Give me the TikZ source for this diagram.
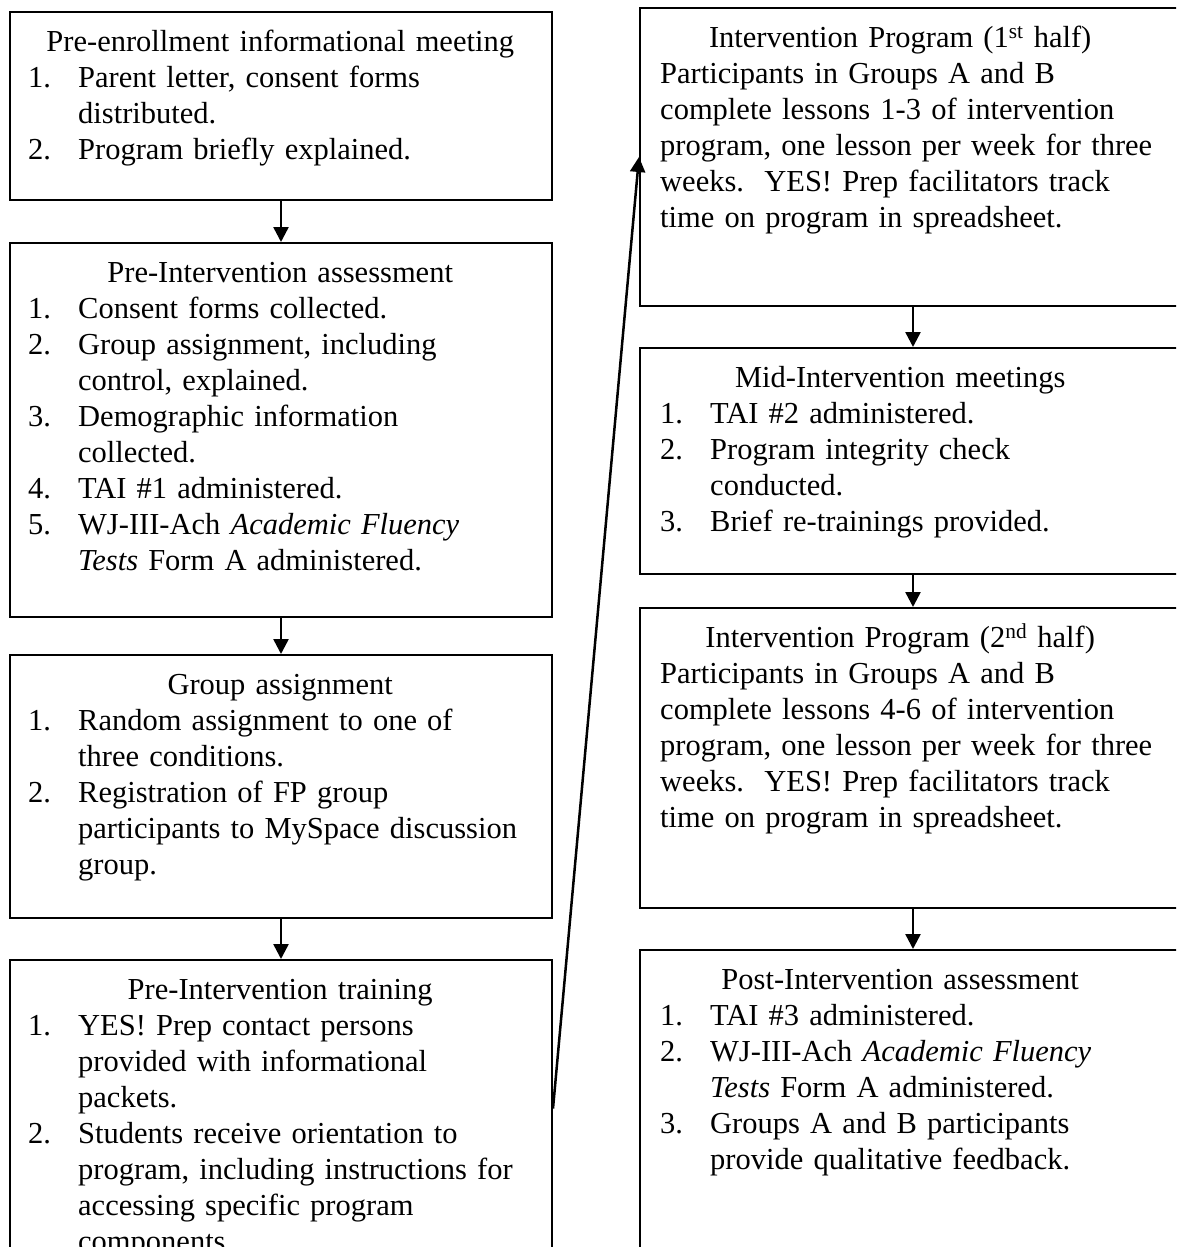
\documentclass[tikz,border=0pt]{standalone}
\usepackage{fontspec}
\setmainfont{Liberation Serif}
\usetikzlibrary{arrows.meta,calc}
% list helpers: number column and hanging continuation
\newcommand\numlbl[1]{\makebox[50pt][l]{#1}}
\newcommand\hang{\hspace*{50pt}}
\newcommand\lefttitle[1]{\makebox[504pt][c]{#1}}
\newcommand\righttitle[1]{\makebox[480pt][c]{#1}}
\begin{document}
\begin{tikzpicture}[x=1pt,y=-1pt,
  box/.style={draw, line width=2pt, rectangle, anchor=north west, inner sep=0pt},
  txt/.style={anchor=north west, inner sep=0pt, align=left, text width=540pt,
    font=\fontsize{30.5}{36}\selectfont, execute at begin node=\strut},
  flow/.style={line width=2.5pt, -{Triangle[width=15pt,length=15pt]}}]
\useasboundingbox (0,0) rectangle (1176,1247);
\clip (0,0) rectangle (1176,1247);

% left column
\node[box, minimum width=542pt, minimum height=188pt] (b1) at (9,11) {};
\node[box, minimum width=542pt, minimum height=374pt] (b2) at (9,242) {};
\node[box, minimum width=542pt, minimum height=263pt] (b3) at (9,654) {};
\node[box, minimum width=542pt, minimum height=297pt] (b4) at (9,959) {};

% right column
\node[box, minimum width=546pt, minimum height=298pt] (r1) at (639,7) {};
\node[box, minimum width=546pt, minimum height=226pt] (r2) at (639,347) {};
\node[box, minimum width=546pt, minimum height=300pt] (r3) at (639,607) {};
\node[box, minimum width=546pt, minimum height=311pt] (r4) at (639,949) {};

% texts
\node[txt] (b1t) at ($(b1.north west)+(19,15)$) {%
\lefttitle{Pre-enrollment informational meeting}\\
\numlbl{1.}Parent letter, consent forms\\
\hang distributed.\\
\numlbl{2.}Program briefly explained.};

\node[txt] (b2t) at ($(b2.north west)+(19,15)$) {%
\lefttitle{Pre-Intervention assessment}\\
\numlbl{1.}Consent forms collected.\\
\numlbl{2.}Group assignment, including\\
\hang control, explained.\\
\numlbl{3.}Demographic information\\
\hang collected.\\
\numlbl{4.}TAI \#1 administered.\\
\numlbl{5.}WJ-III-Ach \textit{Academic Fluency}\\
\hang\textit{Tests} Form A administered.};

\node[txt] (b3t) at ($(b3.north west)+(19,15)$) {%
\lefttitle{Group assignment}\\
\numlbl{1.}Random assignment to one of\\
\hang three conditions.\\
\numlbl{2.}Registration of FP group\\
\hang participants to MySpace discussion\\
\hang group.};

\node[txt] (b4t) at ($(b4.north west)+(19,15)$) {%
\lefttitle{Pre-Intervention training}\\
\numlbl{1.}YES! Prep contact persons\\
\hang provided with informational\\
\hang packets.\\
\numlbl{2.}Students receive orientation to\\
\hang program, including instructions for\\
\hang accessing specific program\\
\hang components.};

\node[txt] (r1t) at ($(r1.north west)+(21,15)$) {%
\righttitle{Intervention Program (1\textsuperscript{st} half)}\\
Participants in Groups A and B\\
complete lessons 1-3 of intervention\\
program, one lesson per week for three\\
weeks.\ \ YES! Prep facilitators track\\
time on program in spreadsheet.};

\node[txt] (r2t) at ($(r2.north west)+(21,15)$) {%
\righttitle{Mid-Intervention meetings}\\
\numlbl{1.}TAI \#2 administered.\\
\numlbl{2.}Program integrity check\\
\hang conducted.\\
\numlbl{3.}Brief re-trainings provided.};

\node[txt] (r3t) at ($(r3.north west)+(21,15)$) {%
\righttitle{Intervention Program (2\textsuperscript{nd} half)}\\
Participants in Groups A and B\\
complete lessons 4-6 of intervention\\
program, one lesson per week for three\\
weeks.\ \ YES! Prep facilitators track\\
time on program in spreadsheet.};

\node[txt] (r4t) at ($(r4.north west)+(21,15)$) {%
\righttitle{Post-Intervention assessment}\\
\numlbl{1.}TAI \#3 administered.\\
\numlbl{2.}WJ-III-Ach \textit{Academic Fluency}\\
\hang\textit{Tests} Form A administered.\\
\numlbl{3.}Groups A and B participants\\
\hang provide qualitative feedback.};

% connectors
\draw[flow] (b1.south) -- (b2.north);
\draw[flow] (b2.south) -- (b3.north);
\draw[flow] (b3.south) -- (b4.north);
\draw[flow] (b4.east) -- (r1.west);
\draw[flow] (r1.south) -- (r2.north);
\draw[flow] (r2.south) -- (r3.north);
\draw[flow] (r3.south) -- (r4.north);
\end{tikzpicture}
\end{document}
